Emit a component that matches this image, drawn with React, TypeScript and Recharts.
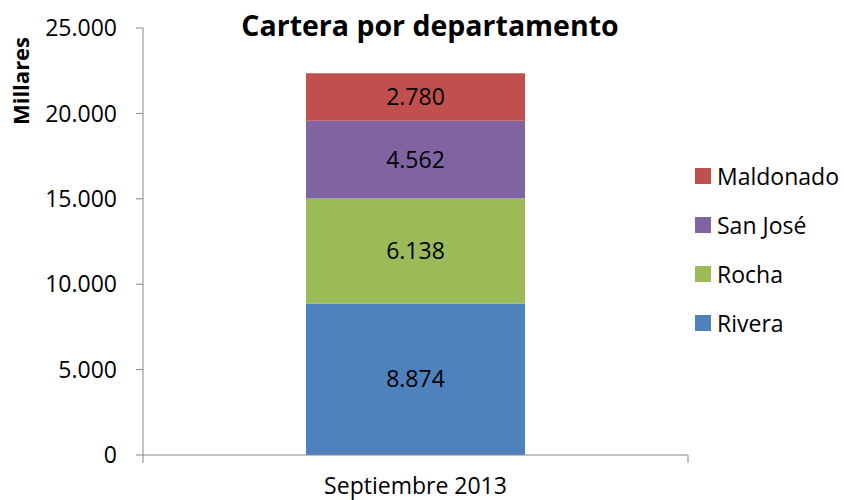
import { Bar, BarChart, LabelList, XAxis, YAxis } from "recharts";

const categories = ["Septiembre 2013"];
const seriesNames = ["Rivera", "Rocha", "San José", "Maldonado"];
const rivera = [8874];
const rocha = [6138];
const sanJose = [4562];
const maldonado = [2780];
const yTicks = [0, 5000, 10000, 15000, 20000, 25000];

const colors: Record<string, string> = {
  Rivera: "#4F81BD",
  Rocha: "#9BBB59",
  "San José": "#8064A2",
  Maldonado: "#C0504D",
};

const data = categories.map((name, i) => ({
  name,
  Rivera: rivera[i],
  Rocha: rocha[i],
  "San José": sanJose[i],
  Maldonado: maldonado[i],
}));

const FONT = "'Open Sans', sans-serif";
const AXIS = "#868686";
const PLOT_LEFT = 143;
const PLOT_RIGHT = 688;
const FS = 23;

// 8874 -> "8.874"
const fmt = (v: number | string) =>
  String(v).replace(/\B(?=(\d{3})+(?!\d))/g, ".");

function CategoryTick(props: any) {
  const { x, y, payload } = props;
  const half = (PLOT_RIGHT - PLOT_LEFT) / 2;
  return (
    <g>
      <line x1={x - half} y1={y - 8} x2={x - half} y2={y} stroke={AXIS} />
      <line x1={x + half} y1={y - 8} x2={x + half} y2={y} stroke={AXIS} />
      <text x={x} y={y + 31} textAnchor="middle" fontSize={FS} fill="#000" fontFamily={FONT}>
        {payload.value}
      </text>
    </g>
  );
}

function LegendBox() {
  const items = [...seriesNames].reverse();
  return (
    <div style={{ position: "absolute", left: 695, top: 151, fontFamily: FONT, fontSize: FS }}>
      {items.map((name) => (
        <div key={name} style={{ display: "flex", alignItems: "center", height: 49 }}>
          <span style={{ width: 16, height: 16, background: colors[name], marginRight: 6 }} />
          <span>{name}</span>
        </div>
      ))}
    </div>
  );
}

export default function App() {
  return (
    <div style={{ position: "absolute", left: 0, top: 0, width: 844, height: 500, background: "#fff" }}>
      <div
        style={{
          position: "absolute",
          left: 0,
          top: 6,
          width: 860,
          textAlign: "center",
          fontFamily: FONT,
          fontWeight: 700,
          fontSize: 28.5,
          color: "#000",
          zIndex: 1,
        }}
      >
        Cartera por departamento
      </div>
      <BarChart
        width={844}
        height={500}
        data={data}
        margin={{ top: 28, right: 844 - PLOT_RIGHT, bottom: 0, left: 0 }}
      >
        <XAxis
          dataKey="name"
          axisLine={{ stroke: AXIS }}
          tickLine={false}
          tick={<CategoryTick />}
          height={45}
        />
        <YAxis
          width={PLOT_LEFT}
          domain={[0, 25000]}
          ticks={yTicks}
          interval={0}
          tickFormatter={fmt}
          axisLine={{ stroke: AXIS }}
          tickLine={{ stroke: AXIS }}
          tickSize={7}
          tickMargin={19}
          tick={{ fill: "#000", fontSize: FS, fontFamily: FONT }}
          label={{
            value: "Millares",
            content: () => (
              <text
                x={20}
                y={81}
                transform="rotate(-90 20 81)"
                textAnchor="middle"
                dominantBaseline="central"
                fontSize={22}
                fontWeight={700}
                fontFamily={FONT}
                fill="#000"
              >
                Millares
              </text>
            ),
          }}
        />
        {seriesNames.map((name) => (
          <Bar
            key={name}
            dataKey={name}
            stackId="a"
            fill={colors[name]}
            barSize={219}
            isAnimationActive={false}
          >
            <LabelList
              dataKey={name}
              position="center"
              formatter={fmt}
              fill="#000"
              fontSize={FS}
              fontFamily={FONT}
            />
          </Bar>
        ))}
      </BarChart>
      <LegendBox />
    </div>
  );
}
